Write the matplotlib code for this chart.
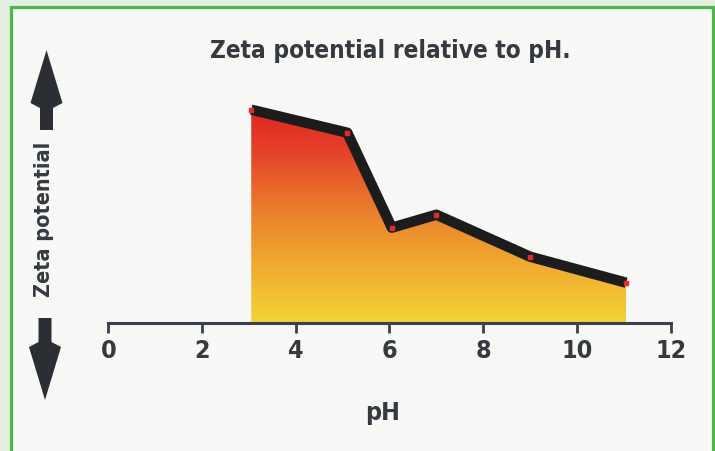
import numpy as np
import matplotlib
matplotlib.use('Agg')
import matplotlib.pyplot as plt
from matplotlib import font_manager
from matplotlib.colors import LinearSegmentedColormap
from matplotlib.patches import Rectangle, Polygon

# values (zeta in arbitrary units)
ph = [3.05, 5.1, 6.05, 7.0, 9.0, 11.05]
zeta = [213, 190, 95, 108, 66, 40]
xticks = [0, 2, 4, 6, 8, 10, 12]

# look for a condensed bold face, the original uses a narrow grotesque
cond = None
for f in font_manager.fontManager.ttflist:
    name = (f.fname + ' ' + f.name).lower()
    if ('condensed' in name or 'narrow' in name) and f.weight in ('bold', 700):
        cond = f.fname
        break
if cond:
    fp = dict(fontproperties=font_manager.FontProperties(fname=cond))
else:
    fp = dict(family=['DejaVu Sans'], weight='bold')

txt_col = '#353a40'
ax_col = '#3a414c'

fig = plt.figure(figsize=(7.15, 4.51), dpi=100)

# background / frame, drawn in pixel coordinates
bg = fig.add_axes([0, 0, 1, 1], zorder=-1)
bg.set_xlim(0, 715)
bg.set_ylim(451, 0)
bg.axis('off')
bg.add_patch(Rectangle((0, 0), 715, 451, facecolor='#e3efe0', edgecolor='none'))
bg.add_patch(Rectangle((10.5, 6.5), 702.5, 450, facecolor='#f8f8f6',
                       edgecolor='#4cb84a', linewidth=2.3))

def arrow(x, tail, tip, hw=16, sw=6.5, barb=5, hl=58):
    d = 1 if tip > tail else -1
    base = tip - d * hl
    pts = [(x - sw, tail), (x + sw, tail), (x + sw, base), (x + hw, base + d * barb),
           (x, tip), (x - hw, base + d * barb), (x - sw, base)]
    bg.add_patch(Polygon(pts, closed=True, facecolor='#2b2f33', edgecolor='none'))

arrow(46.5, 130, 50)
arrow(45, 318, 400)

def label(x, y, s, size, **kw):
    t = bg.text(x, y, s, color=txt_col, **kw, **fp)
    t.set_fontsize(size)
    return t

label(44, 219, 'Zeta potential', 15.5, rotation=90, ha='center', va='center')
label(390, 58, 'Zeta potential relative to pH.', 17.5, ha='center', va='baseline')
label(383, 420, 'pH', 18, ha='center', va='baseline')

# main chart
ax = fig.add_axes([108.3 / 715, (451 - 322.7) / 451, 562.4 / 715, 282.7 / 451])
ax.patch.set_alpha(0)
ax.set_xlim(0, 12)
ax.set_ylim(0, 282.7)

cmap = LinearSegmentedColormap.from_list(
    'zeta', [(0.0, '#f2d536'), (0.3, '#efa62f'), (0.55, '#ea7a2b'),
             (0.8, '#e4432a'), (1.0, '#df2623')])
poly = ax.fill_between(ph, zeta, 0, color='none', linewidth=0)
grad = np.linspace(0, 1, 256).reshape(-1, 1)
img = ax.imshow(grad, cmap=cmap, origin='lower', aspect='auto',
                extent=[ph[0], ph[-1], 0, max(zeta)], zorder=1)
img.set_clip_path(poly.get_paths()[0], transform=ax.transData)

ax.plot(ph, zeta, color='#1c1c1c', linewidth=7.5, solid_joinstyle='round',
        solid_capstyle='butt', zorder=3)
ax.plot(ph, zeta, 's', color='#e52a2e', markersize=3.5, zorder=4)

for s in ['top', 'right', 'left']:
    ax.spines[s].set_visible(False)
ax.spines['bottom'].set_color(ax_col)
ax.spines['bottom'].set_linewidth(2.2)
ax.spines['bottom'].set_zorder(5)
ax.set_yticks([])
ax.set_xticks(xticks)
ax.tick_params(axis='x', direction='out', length=7, width=2, color=ax_col,
               labelcolor=txt_col, pad=5)
for t in ax.get_xticklabels():
    if cond:
        t.set_fontproperties(font_manager.FontProperties(fname=cond))
    else:
        t.set_fontweight('bold')
    t.set_fontsize(18)

plt.savefig('out.png', dpi=100, facecolor=fig.get_facecolor())
